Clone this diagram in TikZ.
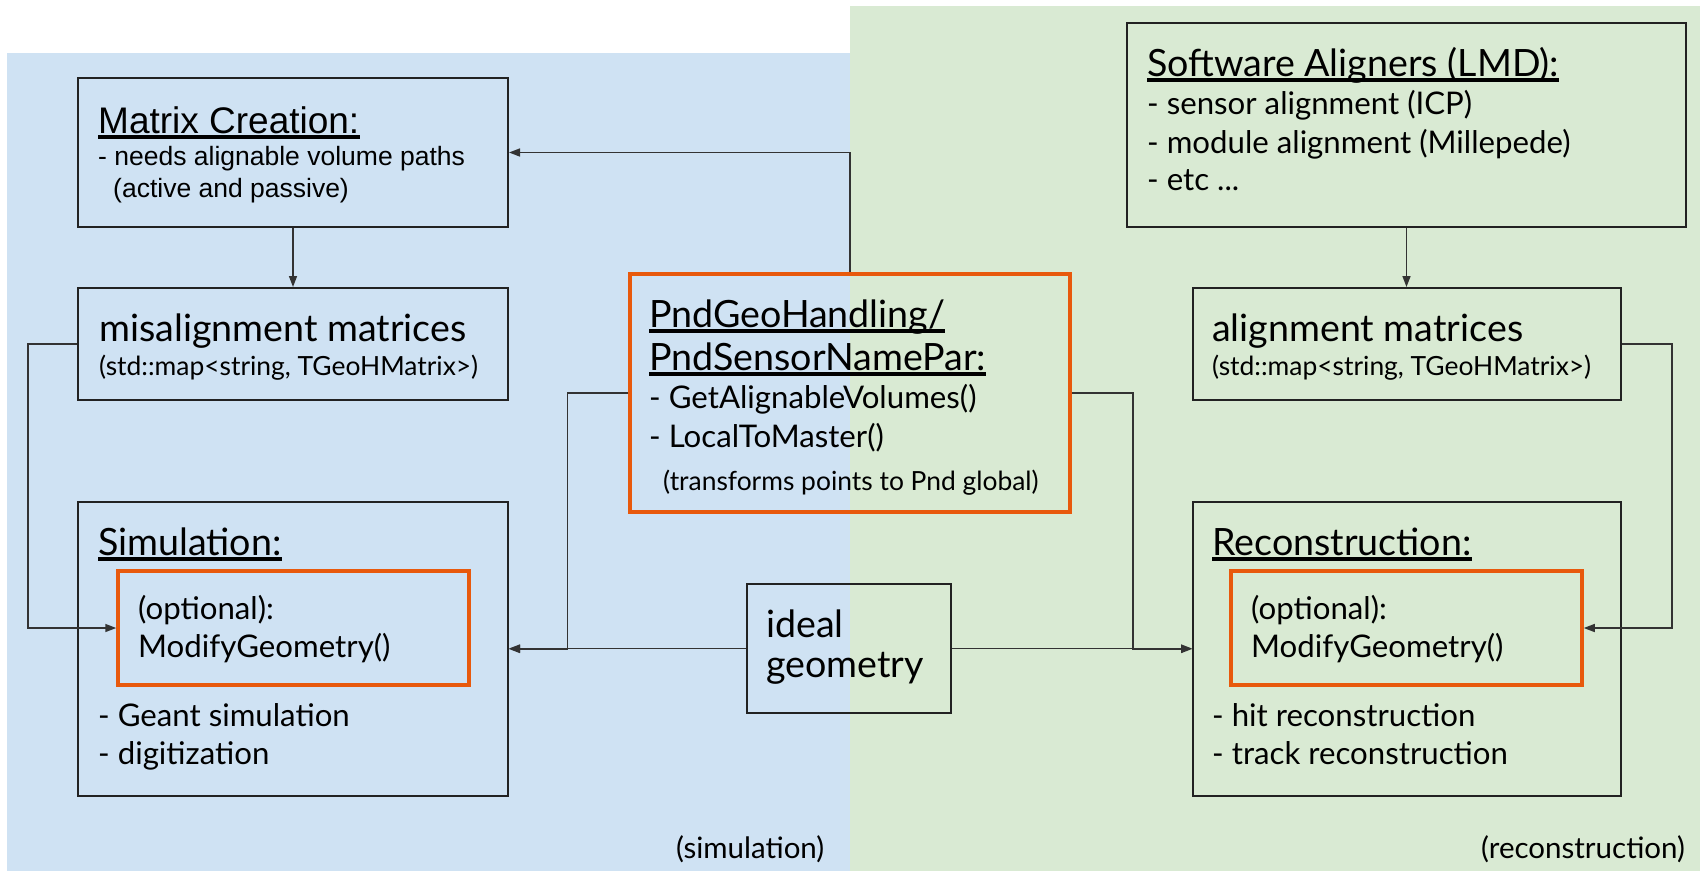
\documentclass[tikz,border=0pt]{standalone}
\usepackage{fontspec}
\setmainfont{Lato}
\newfontfamily\arialf{Liberation Sans}
\usetikzlibrary{arrows.meta}
\definecolor{bgblue}{HTML}{CFE2F3}
\definecolor{bggreen}{HTML}{D9EAD3}
\definecolor{orng}{HTML}{E8590C}
\definecolor{edge}{HTML}{222222}
\definecolor{conn}{HTML}{333333}
\newcommand{\fTitle}{\fontsize{37.6}{44}\selectfont}
\newcommand{\fBody}{\fontsize{31.2}{37}\selectfont}
\newcommand{\fSmall}{\fontsize{26.4}{31}\selectfont}
\newcommand{\fLbl}{\fontsize{29.5}{35}\selectfont}
\newcommand{\fArT}{\arialf\fontsize{37}{44}\selectfont}
\newcommand{\fArB}{\arialf\fontsize{26.5}{32}\selectfont}
\begin{document}
\begin{tikzpicture}[x=1pt,y=-1pt,
  box/.style={draw=edge, line width=2pt, inner sep=0, minimum width=#1},
  obox/.style={draw=orng, line width=3.5pt, inner sep=0},
  txt/.style={inner sep=0, anchor=base west, text=black},
  uline/.style={line width=3.5pt, black},
  arr/.style={draw=conn, line width=1.5pt, -{Triangle[length=11pt,width=8pt]}},
  ln/.style={draw=conn, line width=1.5pt}]
\useasboundingbox (0,0) rectangle (1700,871);
\fill[white] (0,0) rectangle (1700,871);
\fill[bgblue] (7,53) rectangle (850,871);
\fill[bggreen] (850,6) rectangle (1700,871);
% boxes
\node[box=430, minimum height=149] (mc) at (293,152.5) {};
\node[box=430, minimum height=112] (mis) at (293,344) {};
\node[box=430, minimum height=294] (sim) at (293,649) {};
\node[obox, minimum width=351, minimum height=114] (simopt) at (293.5,628) {};
\node[obox, minimum width=440, minimum height=238] (pnd) at (850,393) {};
\node[box=204, minimum height=129] (ideal) at (849,648.5) {};
\node[box=559, minimum height=204] (sa) at (1406.5,125) {};
\node[box=428, minimum height=112] (al) at (1407,344) {};
\node[box=428, minimum height=294] (rec) at (1407,649) {};
\node[obox, minimum width=351, minimum height=114] (recopt) at (1406.5,628) {};
% texts: Matrix Creation
\node[txt] (mct) at (98,133) {\fArT Matrix Creation:};
\node[txt] (mc1) at (98,165) {\fArB - needs alignable volume paths};
\node[txt] (mc2) at (113,197) {\fArB (active and passive)};
% misalignment
\node[txt] (mist) at (99,341) {\fTitle misalignment matrices};
\node[txt] (mis1) at (99,375) {\fSmall (std::map<string, TGeoHMatrix>)};
% pnd
\node[txt] (pndt1) at (649,327) {\fTitle PndGeoHandling/};
\node[txt] (pndt2) at (649,370) {\fTitle PndSensorNamePar:};
\node[txt] (pnd1) at (649,408) {\fBody - GetAlignableVolumes()};
\node[txt] (pnd2) at (649,447) {\fBody - LocalToMaster()};
\node[txt] (pnd3) at (663,490) {\fSmall (transforms points to Pnd global)};
% simulation
\node[txt] (simt) at (98,555) {\fTitle Simulation:};
\node[txt] (sim1) at (138,619) {\fBody (optional):};
\node[txt] (sim2) at (138,657) {\fBody ModifyGeometry()};
\node[txt] (sim3) at (98,726) {\fBody - Geant simulation};
\node[txt] (sim4) at (98,764) {\fBody - digitization};
\node[txt] (simlbl) at (676,858) {\fLbl (simulation)};
% ideal
\node[txt] (id1) at (766,637) {\fTitle ideal};
\node[txt] (id2) at (766,677) {\fTitle geometry};
% software aligners
\node[txt] (sat) at (1147,76) {\fTitle Software Aligners (LMD):};
\node[txt] (sa1) at (1147,114) {\fBody - sensor alignment (ICP)};
\node[txt] (sa2) at (1147,153) {\fBody - module alignment (Millepede)};
\node[txt] (sa3) at (1147,190) {\fBody - etc ...};
% alignment
\node[txt] (alt) at (1212,341) {\fTitle alignment matrices};
\node[txt] (al1) at (1212,375) {\fSmall (std::map<string, TGeoHMatrix>)};
% reconstruction
\node[txt] (rect) at (1212,555) {\fTitle Reconstruction:};
\node[txt] (rec1) at (1251,619) {\fBody (optional):};
\node[txt] (rec2) at (1251,657) {\fBody ModifyGeometry()};
\node[txt] (rec3) at (1212,726) {\fBody - hit reconstruction};
\node[txt] (rec4) at (1212,764) {\fBody - track reconstruction};
\node[txt] (reclbl) at (1481,858) {\fLbl (reconstruction)};
% underlines
\foreach \n in {mct,pndt1,pndt2,simt,sat,rect}
  \draw[uline] ([yshift=-4]\n.base west) -- ([yshift=-4]\n.base east);
% connectors
\draw[arr] (mc.south) -- (mis.north);
\draw[arr] (pnd.north) |- (mc.east);
\draw[arr] (mis.west) -- ++(-49,0) |- (simopt.west);
\draw[arr] (pnd.west) -- ++(-61,0) |- (sim.east);
\draw[arr] (ideal.west) -- (ideal.west -| sim.east);
\draw[arr] (pnd.east) -- ++(61,0) |- (rec.west);
\draw[arr] (ideal.east) -- (ideal.east -| rec.west);
\draw[arr] (sa.south) -- (sa.south |- al.north);
\draw[arr] (al.east) -- ++(50,0) |- (recopt.east);
\end{tikzpicture}
\end{document}
